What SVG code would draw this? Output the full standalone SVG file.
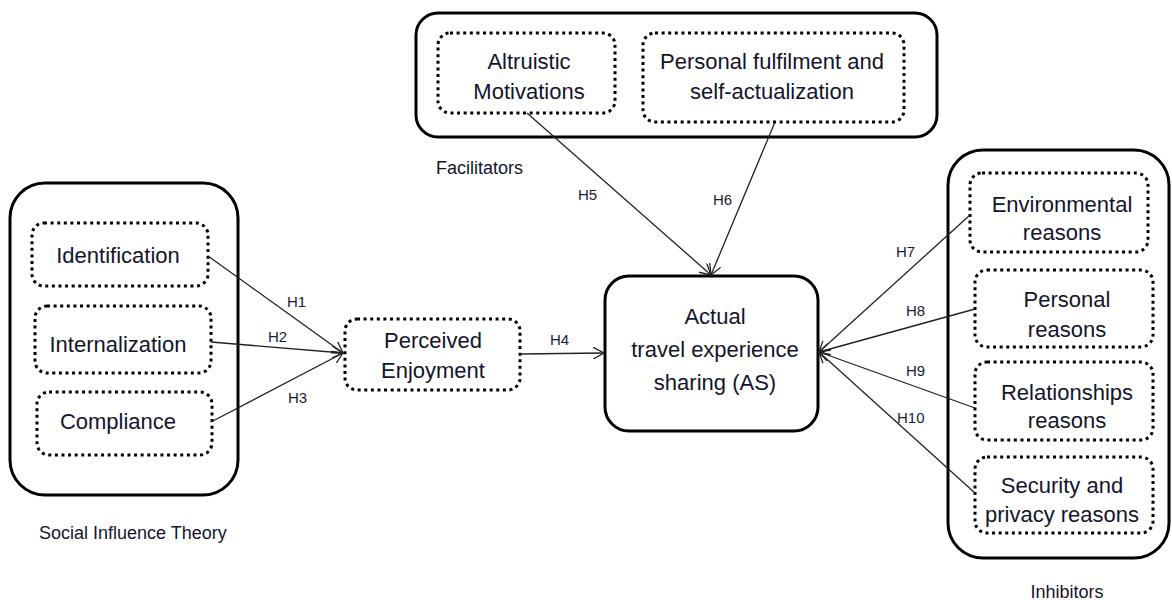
<svg xmlns="http://www.w3.org/2000/svg" width="1172" height="600" viewBox="0 0 1172 600">
<style>
.outer{fill:none;stroke:#000;stroke-width:3}
.dot{fill:none;stroke:#000;stroke-width:3;stroke-dasharray:3 3.6}
.lbl{font-family:"Liberation Sans",Arial,sans-serif;font-size:22px;fill:#14142b;text-anchor:middle}
.cap{font-family:"Liberation Sans",Arial,sans-serif;font-size:18px;fill:#14142b}
.h{font-family:"Liberation Sans",Arial,sans-serif;font-size:15px;fill:#1a1a3a}
.con{stroke:#222;stroke-width:1.3;fill:none;marker-end:url(#arr)}
</style>
<defs>
<marker id="arr" viewBox="0 0 12 12" refX="11" refY="6" markerWidth="12" markerHeight="12" markerUnits="userSpaceOnUse" orient="auto">
<path d="M0,0 L11,6 L0,12" fill="none" stroke="#222" stroke-width="1.3"/>
</marker>
</defs>
<rect width="1172" height="600" fill="#fff"/>

<g id="social-influence-theory">
<rect class="outer" x="10" y="183" width="228" height="312" rx="35"/>
<text class="cap" x="39" y="539">Social Influence Theory</text>
</g>
<g id="identification">
<rect class="dot" x="32" y="223" width="176" height="63" rx="12"/>
<text class="lbl" x="118" y="263">Identification</text>
</g>
<g id="internalization">
<rect class="dot" x="35" y="306" width="176" height="67" rx="12"/>
<text class="lbl" x="118" y="352">Internalization</text>
</g>
<g id="compliance">
<rect class="dot" x="37" y="392" width="175" height="63" rx="12"/>
<text class="lbl" x="118" y="429">Compliance</text>
</g>
<g id="perceived-enjoyment">
<rect class="dot" x="345" y="319" width="175" height="71" rx="12"/>
<text class="lbl" x="433" y="348">Perceived</text>
<text class="lbl" x="433" y="378">Enjoyment</text>
</g>

<g id="facilitators">
<rect class="outer" x="416" y="13" width="521" height="124" rx="22"/>
<text class="cap" x="436" y="174">Facilitators</text>
</g>
<g id="altruistic-motivations">
<rect class="dot" x="438" y="33" width="177" height="80" rx="12"/>
<text class="lbl" x="529" y="69">Altruistic</text>
<text class="lbl" x="529" y="99">Motivations</text>
</g>
<g id="personal-fulfilment">
<rect class="dot" x="643" y="33" width="261" height="89" rx="12"/>
<text class="lbl" x="772" y="69">Personal fulfilment and</text>
<text class="lbl" x="772" y="99">self-actualization</text>
</g>

<g id="actual-sharing">
<rect class="outer" x="605" y="276" width="213" height="155" rx="24"/>
<text class="lbl" x="715" y="324">Actual</text>
<text class="lbl" x="715" y="357">travel experience</text>
<text class="lbl" x="715" y="390">sharing (AS)</text>
</g>

<g id="inhibitors">
<rect class="outer" x="948" y="150" width="221" height="408" rx="35"/>
<text class="cap" x="1067" y="598" text-anchor="middle">Inhibitors</text>
</g>
<g id="environmental-reasons">
<rect class="dot" x="970" y="173" width="178" height="79" rx="12"/>
<text class="lbl" x="1062" y="212">Environmental</text>
<text class="lbl" x="1062" y="240">reasons</text>
</g>
<g id="personal-reasons">
<rect class="dot" x="975" y="270" width="178" height="77" rx="12"/>
<text class="lbl" x="1067" y="307">Personal</text>
<text class="lbl" x="1067" y="337">reasons</text>
</g>
<g id="relationships-reasons">
<rect class="dot" x="975" y="362" width="178" height="78" rx="12"/>
<text class="lbl" x="1067" y="400">Relationships</text>
<text class="lbl" x="1067" y="428">reasons</text>
</g>
<g id="security-reasons">
<rect class="dot" x="975" y="457" width="178" height="76" rx="12"/>
<text class="lbl" x="1062" y="493">Security and</text>
<text class="lbl" x="1062" y="522">privacy reasons</text>
</g>

<g id="connectors">
<line class="con" x1="208" y1="256" x2="343" y2="353"/>
<line class="con" x1="211" y1="342" x2="343" y2="353"/>
<line class="con" x1="211" y1="422" x2="343" y2="353"/>
<line class="con" x1="520" y1="354" x2="604" y2="353"/>
<line class="con" x1="527" y1="113" x2="711" y2="275"/>
<line class="con" x1="775" y1="122" x2="711" y2="275"/>
<line class="con" x1="970" y1="215" x2="819" y2="352"/>
<line class="con" x1="975" y1="309" x2="819" y2="352"/>
<line class="con" x1="975" y1="408" x2="819" y2="352"/>
<line class="con" x1="975" y1="493" x2="819" y2="352"/>
<text class="h" x="287" y="307">H1</text>
<text class="h" x="268" y="342">H2</text>
<text class="h" x="288" y="403">H3</text>
<text class="h" x="550" y="345">H4</text>
<text class="h" x="578" y="200">H5</text>
<text class="h" x="713" y="205">H6</text>
<text class="h" x="896" y="257">H7</text>
<text class="h" x="906" y="316">H8</text>
<text class="h" x="906" y="376">H9</text>
<text class="h" x="897" y="423">H10</text>
</g>
</svg>
